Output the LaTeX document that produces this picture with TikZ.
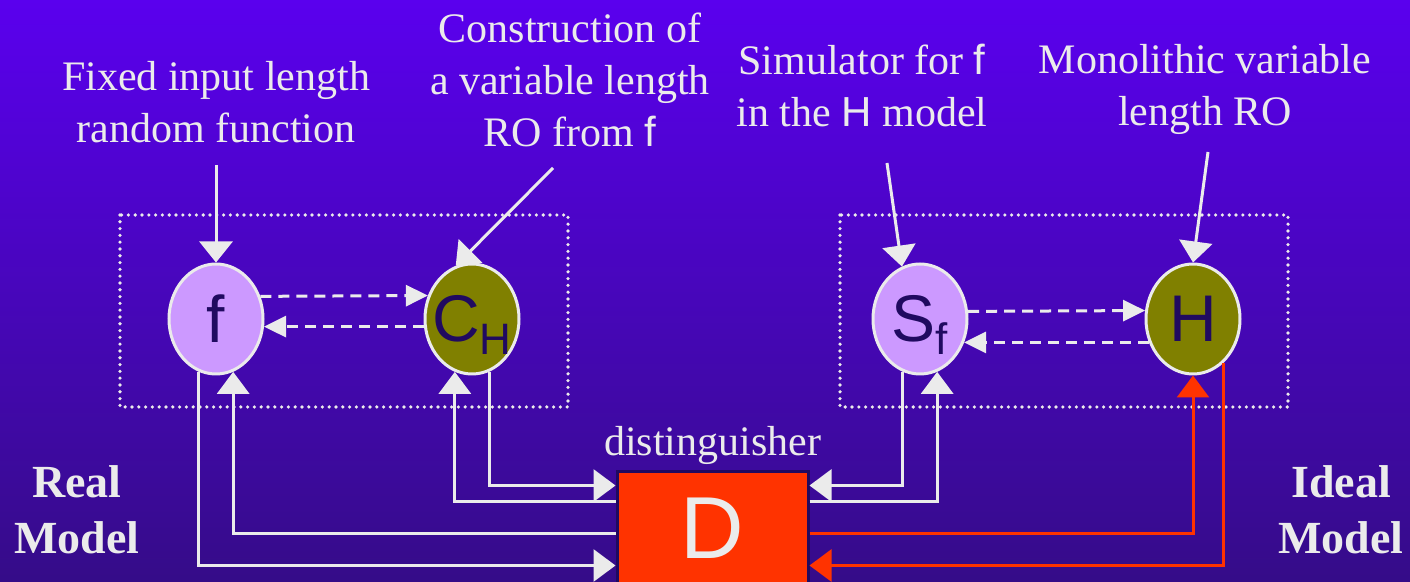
\documentclass[tikz,border=0pt]{standalone}
\usepackage{fontspec}
\setmainfont{Liberation Serif}
\newfontfamily\arialfont{Liberation Sans}
\usetikzlibrary{arrows.meta,shapes.geometric,positioning}
\definecolor{bgtop}{HTML}{5A00EE}
\definecolor{bgbot}{HTML}{350C88}
\definecolor{lilac}{HTML}{CC99FF}
\definecolor{olivefill}{HTML}{808000}
\definecolor{inkblue}{HTML}{200A60}
\definecolor{dred}{HTML}{FF3300}
\definecolor{offwhite}{HTML}{EBEBEB}
\tikzset{
  oracle/.style={ellipse, draw=offwhite, line width=1.5pt, minimum width=47pt,
    minimum height=55pt, inner sep=0pt, text=inkblue,
    font=\arialfont\fontsize{33}{33}\selectfont},
  lbl/.style={text=offwhite, align=center, inner sep=0pt,
    font=\fontsize{21}{26}\selectfont},
  side/.style={lbl, font=\bfseries\fontsize{23}{28}\selectfont},
  pointer/.style={draw=offwhite, line width=1.5pt, -{Triangle[width=16.5pt,length=10.5pt]}},
  link/.style={draw=offwhite, line width=1.5pt, -{Triangle[width=16pt,length=11pt]}},
  redlink/.style={link, draw=dred},
  query/.style={draw=offwhite, line width=1.5pt, dash pattern=on 5.5pt off 3.5pt,
    -{Triangle[width=10.5pt,length=11pt]}},
  frame/.style={draw=offwhite, line width=1.8pt, line cap=round, dash pattern=on 0pt off 3.4pt},
}
\newcommand{\subtxt}[1]{\raisebox{-6.5pt}[0pt][0pt]{\fontsize{22}{22}\selectfont #1}}
\begin{document}
\begin{tikzpicture}[x=0.5pt, y=-0.5pt]
  \useasboundingbox (0,0) rectangle (1410,582);
  \clip (0,0) rectangle (1410,582);
  \shade[top color=bgtop, bottom color=bgbot] (0,0) rectangle (1410,582);
  % two worlds
  \draw[frame] (120,215) rectangle (568,407);
  \draw[frame] (840,215) rectangle (1288,407);
  % oracles
  \node[oracle, fill=lilac] (f) at (216,319) {f};
  \node[oracle, fill=olivefill] (CH) at (472,319) {\makebox[0pt]{C\subtxt{H}}};
  \node[oracle, fill=lilac] (Sf) at (920,319) {\makebox[0pt]{S\subtxt{f}}};
  \node[oracle, fill=olivefill] (H) at (1193,319) {H};
  % distinguisher
  \node[draw=inkblue, line width=1.5pt, fill=dred, minimum width=95.5pt,
    minimum height=56.5pt, text=offwhite, font=\arialfont\fontsize{44}{44}\selectfont]
    (D) at (712.5,528.5) {D};
  \node[lbl, above=3pt of D] (dlbl) {distinguisher};
  % captions
  \node[lbl, anchor=north] (fixlbl) at (216,61) {Fixed input length\\random function};
  \node[lbl, anchor=north] (conlbl) at (570,13) {Construction of\\a variable length\\RO from {\arialfont f}};
  \node[lbl, anchor=north] (simlbl) at (862,44) {Simulator for {\arialfont f}\\in the {\arialfont H} model};
  \node[lbl, anchor=north] (monlbl) at (1205,44) {Monolithic variable\\length RO};
  \node[side, anchor=north] (reallbl) at (77,465) {Real\\Model};
  \node[side, anchor=north] (ideallbl) at (1341,465) {Ideal\\Model};
  % caption pointers
  \coordinate (fixtail) at (216,165);
  \coordinate (contail) at (553,168);
  \coordinate (simtail) at (887,163);
  \coordinate (montail) at (1208,152);
  \draw[pointer] (fixtail) -- (f.north);
  \draw[pointer] (contail) -- (CH.107);
  \draw[pointer] (simtail) -- (Sf.109);
  \draw[pointer] (montail) -- (H.north);
  % queries inside each world
  \draw[query] (f.27.4) -- (CH.152.6);
  \draw[query] (CH.189.5) -- (f.-9.5);
  \draw[query] (Sf.9.5) -- (H.170.5);
  \draw[query] (H.208.7) -- (Sf.-28.7);
  % D talks to the real world
  \draw[link] (CH.288) |- ([yshift=-7.5pt]D.north west);
  \draw[link] ([yshift=-15.5pt]D.north west) -| (CH.252);
  \draw[link] ([yshift=-31.5pt]D.north west) -| (f.288);
  \draw[link] (f.252) |- ([yshift=-47.5pt]D.north west);
  % D talks to the ideal world
  \draw[link] (Sf.252) |- ([yshift=-7.5pt]D.north east);
  \draw[link] ([yshift=-15.5pt]D.north east) -| (Sf.288);
  \draw[redlink] ([yshift=-31.5pt]D.north east) -| (H.south);
  \draw[redlink] (H.305) |- ([yshift=-47.5pt]D.north east);
\end{tikzpicture}
\end{document}
